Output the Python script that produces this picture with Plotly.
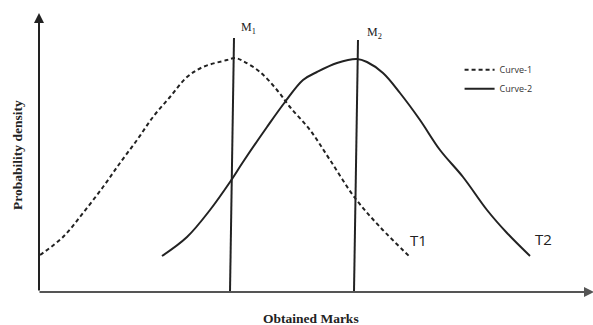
import plotly.graph_objects as go

# Sketch coordinates: x = obtained marks, y = probability density (arbitrary units)
curve1_x = [1, 24, 44, 64, 81, 98, 114, 131, 148, 164, 188, 196, 204, 221, 238, 251, 271, 291, 316, 341, 371]
curve1_y = [37, 55, 79, 105, 129, 152, 175, 195, 215, 225, 232, 234, 231, 220, 202, 185, 162, 132, 94, 65, 35]

curve2_x = [123, 148, 171, 191, 204, 228, 246, 264, 278, 298, 318, 328, 344, 361, 381, 401, 424, 448, 468, 491]
curve2_y = [36, 55, 82, 110, 130, 165, 190, 212, 220, 229, 233, 230, 219, 199, 172, 142, 115, 82, 59, 36]

m1_x = [195, 191]
m1_y = [254, 0]
m2_x = [319, 315]
m2_y = [252, 0]

ink = "#222222"
serif = "Liberation Serif"

fig = go.Figure()

fig.add_trace(go.Scatter(
    x=curve1_x, y=curve1_y, mode="lines", name="Curve-1",
    line=dict(color=ink, width=2, dash="4px,3px", shape="spline", smoothing=1.0),
))
fig.add_trace(go.Scatter(
    x=curve2_x, y=curve2_y, mode="lines", name="Curve-2",
    line=dict(color=ink, width=2, shape="spline", smoothing=1.0),
))
for mx, my in [(m1_x, m1_y), (m2_x, m2_y)]:
    fig.add_trace(go.Scatter(
        x=mx, y=my, mode="lines", showlegend=False,
        line=dict(color=ink, width=2),
    ))

# axes with arrows
fig.add_annotation(x=0, y=279, ax=0, ay=0, xref="x", yref="y", axref="x", ayref="y",
                   showarrow=True, arrowhead=2, arrowsize=1, arrowwidth=2, arrowcolor=ink, text="")
fig.add_annotation(x=555, y=0, ax=-1, ay=0, xref="x", yref="y", axref="x", ayref="y",
                   showarrow=True, arrowhead=2, arrowsize=1, arrowwidth=2, arrowcolor="#555555", text="")

labels = [
    (209, 264, "M<sub>1</sub>", serif, 12),
    (335, 259, "M<sub>2</sub>", serif, 12),
    (379, 52, "T1", "Open Sans", 15),
    (504, 53, "T2", "Open Sans", 15),
]
for lx, ly, txt, fam, size in labels:
    fig.add_annotation(x=lx, y=ly, text=txt, showarrow=False,
                       font=dict(family=fam, size=size, color=ink))

fig.add_annotation(x=272, y=-26, text="<b>Obtained Marks</b>", showarrow=False,
                   font=dict(family=serif, size=13.5, color=ink))
fig.add_annotation(x=-22, y=137, text="<b>Probability density</b>", showarrow=False, textangle=-90,
                   font=dict(family=serif, size=13.5, color=ink))

fig.update_layout(
    width=593, height=325,
    margin=dict(l=0, r=0, t=0, b=0),
    paper_bgcolor="white", plot_bgcolor="white",
    xaxis=dict(range=[-39, 554], visible=False),
    yaxis=dict(range=[-33, 292], visible=False),
    legend=dict(x=0.775, y=0.83, xanchor="left", yanchor="top",
                font=dict(family="Open Sans", size=9, color="#333333"),
                itemwidth=30, bgcolor="rgba(0,0,0,0)"),
)

# drop the browser's default body margin so the 593x325 figure fills the window
fig.write_html(
    "out.html",
    config={"displayModeBar": False},
    post_script="document.body.style.margin='0';document.body.style.overflow='hidden';",
)
